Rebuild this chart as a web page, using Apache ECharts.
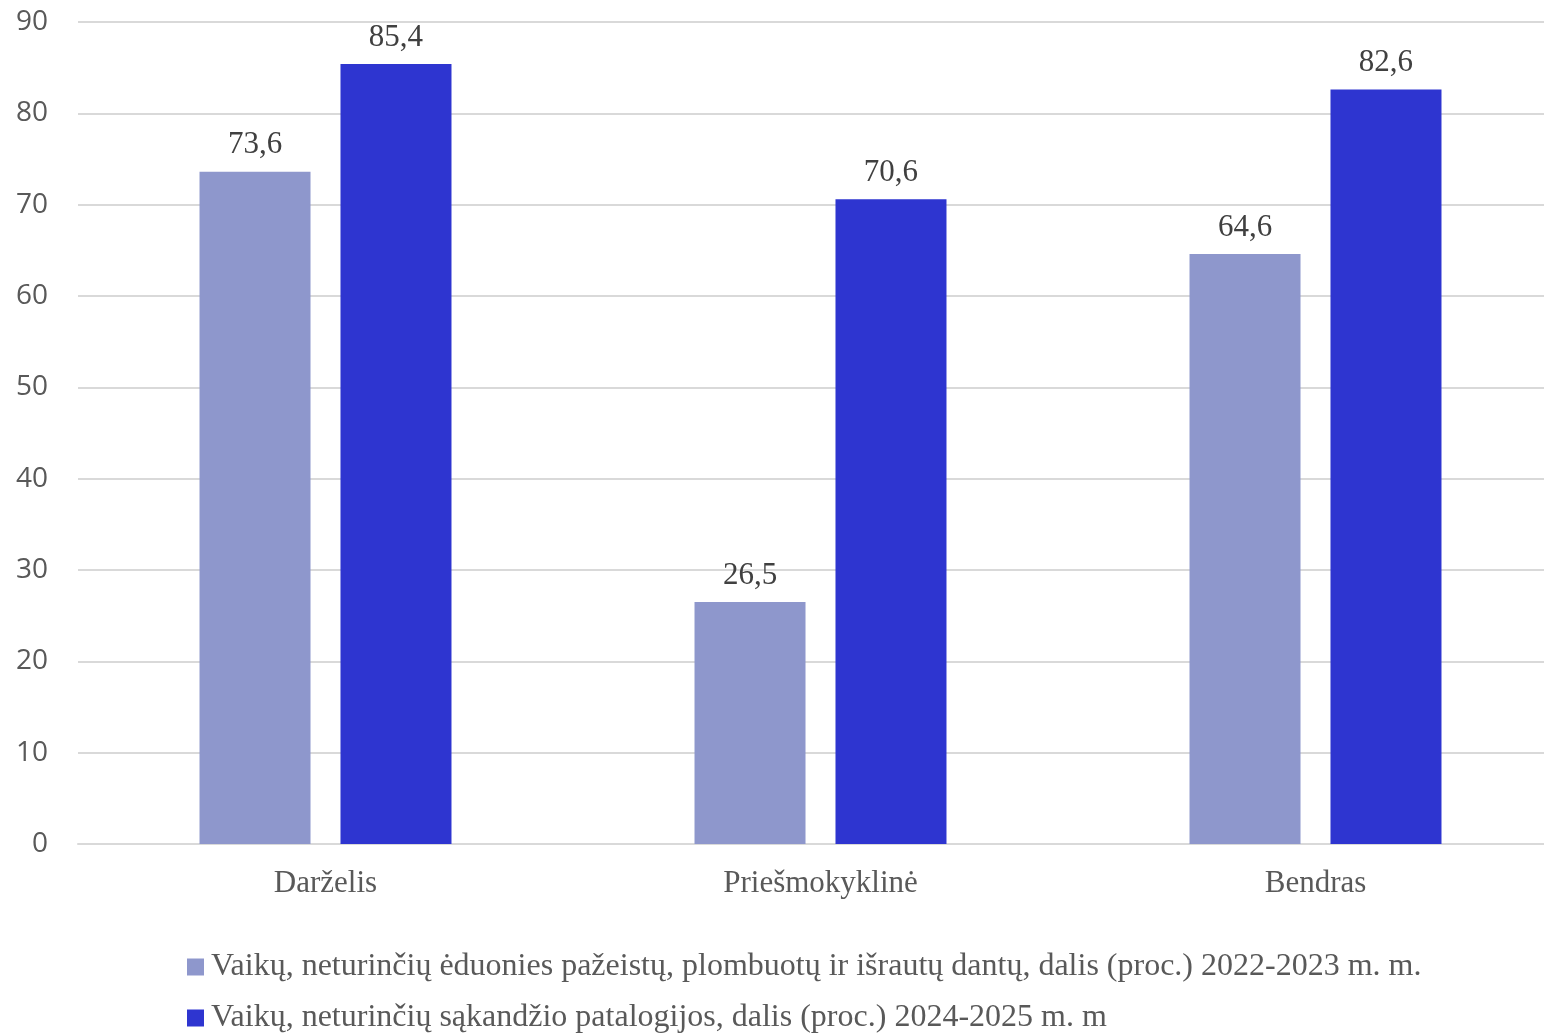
<!DOCTYPE html>
<html><head><meta charset="utf-8">
<script src="https://cdn.jsdelivr.net/npm/echarts@6/dist/echarts.min.js"></script>
<style>html,body{margin:0;padding:0;background:#fff;overflow:hidden}#c{width:1563px;height:1034px}</style>
</head><body><div id="c"></div>
<script>
const categories = ['Darželis', 'Priešmokyklinė', 'Bendras'];
const seriesNames = ['Vaikų, neturinčių ėduonies pažeistų, plombuotų ir išrautų dantų, dalis (proc.) 2022-2023 m. m.',
  'Vaikų, neturinčių sąkandžio patalogijos, dalis (proc.) 2024-2025 m. m'];
const values2022 = [73.6, 26.5, 64.6];
const values2024 = [85.4, 70.6, 82.6];
const colors = ['#8E97CC', '#2E35D0'];

const chart = echarts.init(document.getElementById('c'));
const labelCfg = {
  show: true, position: 'top', distance: 11,
  fontFamily: 'Liberation Serif', fontSize: 31, color: '#404040',
  formatter: p => String(p.value).replace('.', ',')
};
const legendText = { fontFamily: 'Liberation Serif', fontSize: 32, color: '#595959', lineHeight: 36, padding: [0, 0, 0, 2] };
chart.setOption({
  animation: false,
  grid: { left: 78, right: 0, top: 22, bottom: 190, containLabel: false },
  legend: [
    { left: 182, top: 944, itemWidth: 17, itemHeight: 17, icon: 'rect', textStyle: legendText, data: [seriesNames[0]] },
    { left: 182, top: 995, itemWidth: 17, itemHeight: 17, icon: 'rect', textStyle: legendText, data: [seriesNames[1]] }
  ],
  xAxis: {
    type: 'category', data: categories,
    axisLine: { lineStyle: { color: '#d9d9d9', width: 2 } },
    axisTick: { show: false },
    axisLabel: { fontFamily: 'Liberation Serif', fontSize: 31, color: '#595959', margin: 24 }
  },
  yAxis: {
    type: 'value', min: 0, max: 90, interval: 10,
    axisLine: { show: false }, axisTick: { show: false },
    splitLine: { lineStyle: { color: '#d9d9d9', width: 2 } },
    axisLabel: { fontFamily: 'Open Sans', fontSize: 28, color: '#595959', margin: 30 }
  },
  series: [
    { name: seriesNames[0], type: 'bar', data: values2022, itemStyle: { color: colors[0] },
      barWidth: 111, barGap: '27%', label: labelCfg },
    { name: seriesNames[1], type: 'bar', data: values2024, itemStyle: { color: colors[1] },
      barWidth: 111, label: labelCfg }
  ]
});
</script></body></html>
